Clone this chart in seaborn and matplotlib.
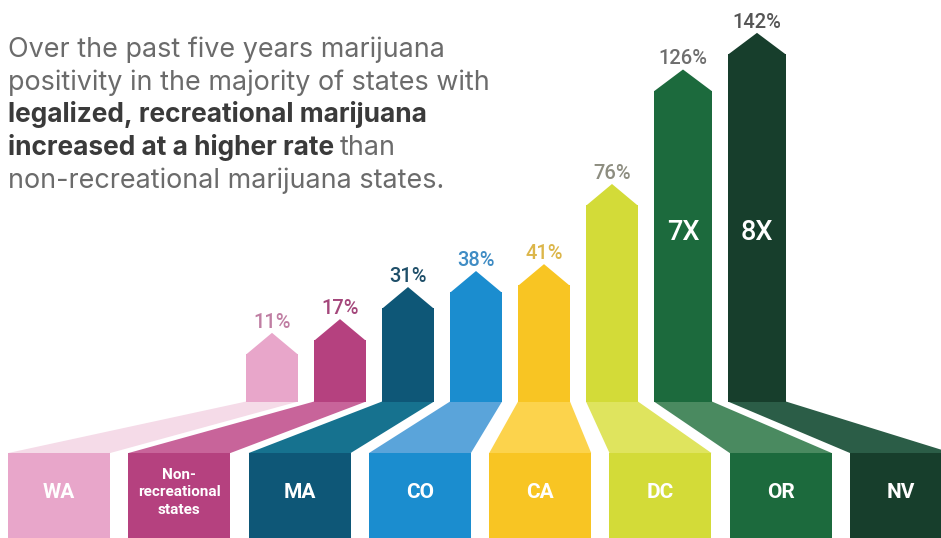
import numpy as np
import pandas as pd
import matplotlib.pyplot as plt
import seaborn as sns
from matplotlib.patches import Polygon, Rectangle

# Datos del gráfico
states = ["WA", "Non-\nrecreational\nstates", "MA", "CO", "CA", "DC", "OR", "NV"]
increase = [11, 17, 31, 38, 41, 76, 126, 142]
multiplier = ["", "", "", "", "", "", "7X", "8X"]

colors = ["#e8a6ca", "#b5417f", "#0e5777", "#1b8dcf", "#f8c523", "#d3db38", "#1c6a3d", "#173e2c"]
floor_colors = ["#f5dbe8", "#c8649a", "#16728f", "#5aa4da", "#fcd34c", "#dfe45e", "#4a8a60", "#2b5d47"]
label_colors = ["#c07ea3", "#a4477b", "#1f4f69", "#3f8cc4", "#dcb64a", "#8d8d80", "#6e6e6e", "#555555"]

title_lines = [
    ("Over the past five years marijuana", "normal"),
    ("positivity in the majority of states with", "normal"),
    ("legalized, recreational marijuana", "bold"),
    ("increased at a higher rate", "bold"),
    ("non-recreational marijuana states.", "normal"),
]

# Layout (pixeles de la figura)
W, H = 941, 538
PX_PER_PCT = 2.29
BASE_PY = 402
OFFSET = 19.2      # las barras no empiezan en 0%
TIP = 9.2          # altura de la punta de flecha
ARROW_X0, ARROW_GAP = 246, 16
BOX_X0, BOX_STEP, BOX_W = 8, 120.3, 102
BOX_TOP = -22.3

sns.set_style("white")
plt.rcParams['font.family'] = ['Roboto', 'DejaVu Sans']

fig = plt.figure(figsize=(W / 100, H / 100), dpi=100)
ax = fig.add_axes([0, 0, 1, 1])

widths = np.array([58 if m else 52 for m in multiplier])
lefts = ARROW_X0 + np.concatenate([[0], np.cumsum(widths + ARROW_GAP)[:-1]])
centers = lefts + widths / 2

df = pd.DataFrame({
    "x": centers,
    "body": np.array(increase) + OFFSET - TIP,
    "state": states,
    "w": widths,
})
palette = dict(zip(states, colors))

# Cuerpos de las flechas
for w, sub in df.groupby("w"):
    native = np.min(np.diff(sub["x"])) if len(sub) > 1 else 1
    sns.barplot(data=sub, x="x", y="body", hue="state", palette=palette,
                native_scale=True, width=w / native, dodge=False, legend=False,
                saturation=1, errorbar=None, linewidth=0, ax=ax, zorder=2)

ybot = (BASE_PY - H) / PX_PER_PCT
ytop = BASE_PY / PX_PER_PCT

for i, v in enumerate(increase):
    l, r, c = lefts[i], lefts[i] + widths[i], centers[i]
    top = v + OFFSET - TIP
    # punta
    ax.add_patch(Polygon([(l, top - 0.3), (c, v + OFFSET), (r, top - 0.3)],
                         closed=True, color=colors[i], lw=0, zorder=2))
    # conexión con la caja inferior
    bl = BOX_X0 + i * BOX_STEP
    br = bl + BOX_W
    ax.add_patch(Polygon([(l, 0.2), (r, 0.2), (br, BOX_TOP), (bl, BOX_TOP)],
                         closed=True, color=floor_colors[i], lw=0, zorder=1))
    # caja inferior
    ax.add_patch(Rectangle((bl, ybot - 5), BOX_W, BOX_TOP - ybot + 5,
                           color=colors[i], lw=0, zorder=2))
    small = "\n" in states[i]
    ax.text(bl + BOX_W / 2, -39.5, states[i], ha="center", va="center",
            color="white", fontsize=11 if small else 15, fontweight="bold",
            linespacing=1.3, zorder=3)
    # etiqueta de porcentaje
    ax.text(c, v + OFFSET + 2.2, f"{v}%", ha="center", va="baseline",
            color=label_colors[i], fontsize=14.5, fontweight="medium", zorder=3)
    if multiplier[i]:
        ax.text(c, 74.2, multiplier[i], ha="center", va="center", color="white",
                fontsize=19.5, fontweight="medium", zorder=3)

ax.set_xlim(0, W)
ax.set_ylim(ybot, ytop)
ax.axis("off")

# Texto del título
baselines = [57, 90, 122.5, 155, 187.5]
title_font = ['Inter', 'DejaVu Sans']
texts = []
for (line, weight), py in zip(title_lines, baselines):
    t = fig.text(8 / W, 1 - py / H, line, fontsize=18.9 if weight == "bold" else 19.4,
                 fontweight=weight, family=title_font,
                 color="#3a3a3a" if weight == "bold" else "#6b6b6b", va="baseline")
    texts.append(t)

fig.canvas.draw()
ext = texts[3].get_window_extent()
fig.text((ext.x1 + 6) / W, 1 - baselines[3] / H, "than", fontsize=19.4,
         family=title_font, color="#6b6b6b", va="baseline")

fig.savefig("out.png", dpi=100)
